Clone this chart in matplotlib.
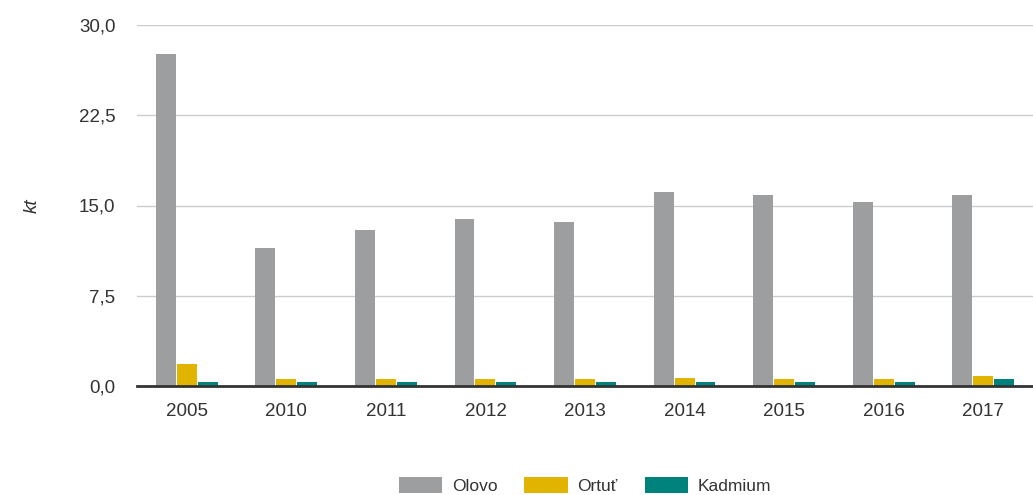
import matplotlib.pyplot as plt
import numpy as np

plt.rcParams['font.family'] = ['Liberation Sans', 'DejaVu Sans']

roky = ['2005', '2010', '2011', '2012', '2013', '2014', '2015', '2016', '2017']
olovo = [27.6, 11.5, 13.0, 13.9, 13.6, 16.1, 15.9, 15.3, 15.9]
ortut = [1.8, 0.55, 0.55, 0.55, 0.55, 0.65, 0.6, 0.6, 0.8]
kadmium = [0.3, 0.3, 0.3, 0.3, 0.35, 0.35, 0.35, 0.35, 0.55]

serie = ['Olovo', 'Ortuť', 'Kadmium']
farby = ['#9d9ea0', '#e0b400', '#00827c']

fig = plt.figure(figsize=(10.33, 4.95), dpi=100)
ax = fig.add_axes([137 / 1033, 109 / 495, 896 / 1033, 361 / 495])

x = np.arange(len(roky))
w = 0.2
for i, (vals, nazov, farba) in enumerate(zip([olovo, ortut, kadmium], serie, farby)):
    ax.bar(x + (i - 1) * 0.21, vals, width=w, color=farba, label=nazov, zorder=3)

ax.set_xlim(-0.5, len(roky) - 0.5)
ax.set_ylim(0, 30)
ax.set_yticks([0, 7.5, 15, 22.5, 30])
ax.set_yticklabels(['0,0', '7,5', '15,0', '22,5', '30,0'])
ax.set_xticks(x)
ax.set_xticklabels(roky)

ax.grid(axis='y', color='#cccccc', linewidth=1, zorder=0)
for s in ['top', 'right', 'left']:
    ax.spines[s].set_visible(False)
ax.spines['bottom'].set_color('#333333')
ax.spines['bottom'].set_linewidth(2)
ax.spines['bottom'].set_zorder(4)
ax.tick_params(axis='both', length=0, labelsize=13.5, colors='#333333')
ax.tick_params(axis='y', pad=15.5)
ax.tick_params(axis='x', pad=12)

ax.set_ylabel('kt', fontstyle='italic', fontsize=13.5, color='#333333', labelpad=27.5)

leg = ax.legend(loc='center', bbox_to_anchor=(0.5, -0.276), ncol=3,
                frameon=False, fontsize=12.5, handlelength=2.5, handleheight=1.0,
                columnspacing=1.55, handletextpad=0.55)
for t in leg.get_texts():
    t.set_color('#333333')

fig.savefig('out.png', dpi=100)
